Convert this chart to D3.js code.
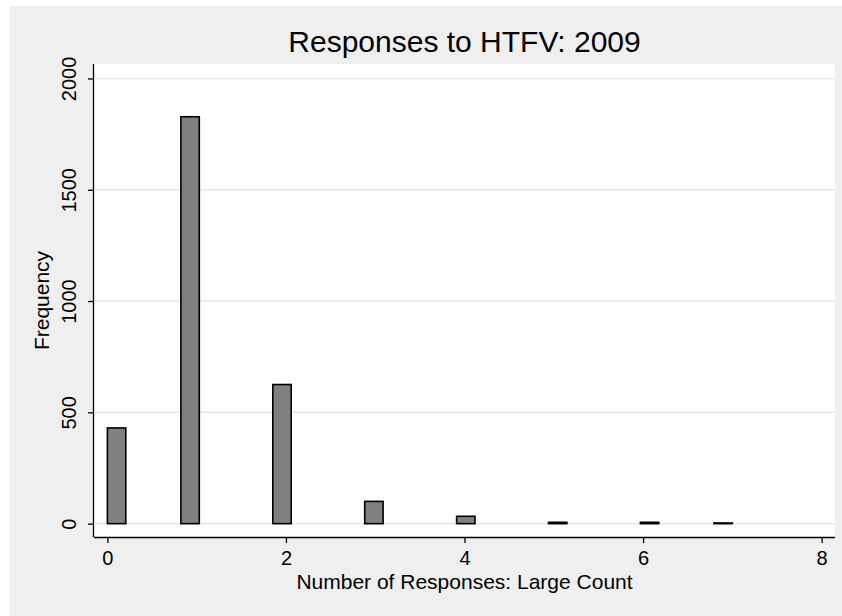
<!DOCTYPE html>
<html>
<head>
<meta charset="utf-8">
<script src="https://cdn.jsdelivr.net/npm/d3@7"></script>
<style>
  html, body { margin: 0; padding: 0; background: #ffffff; }
  svg { display: block; font-family: "Liberation Sans", Arial, Helvetica, sans-serif; }
</style>
</head>
<body>
<svg id="chart" width="842" height="616"></svg>
<script>
// Number of responses (discrete values) and how often each occurred
const responses = [0, 1, 2, 3, 4, 5, 6, 7];
const frequency = [430, 1828, 625, 100, 33, 6, 6, 3];

// Histogram binning: 34 equal bins spanning the observed range
const binCount = 34;
const dataMin = 0;
const dataMax = 7;

const xTicks = [0, 2, 4, 6, 8];
const yTicks = [0, 500, 1000, 1500, 2000];

const titleText = "Responses to HTFV: 2009";
const xTitle = "Number of Responses: Large Count";
const yTitle = "Frequency";

const W = 842, H = 616;
const plot = { left: 94, right: 835, top: 64, bottom: 537 };

const svg = d3.select("#chart");

// graph region
svg.append("rect")
  .attr("x", 10).attr("y", 6)
  .attr("width", W - 10).attr("height", H - 6)
  .attr("fill", "#efefef");

// plot region
svg.append("rect")
  .attr("x", plot.left).attr("y", plot.top)
  .attr("width", plot.right - plot.left).attr("height", plot.bottom - plot.top)
  .attr("fill", "#ffffff");

const x = d3.scaleLinear().domain([-0.15, 8.15]).range([plot.left, plot.right]);
const y = d3.scaleLinear().domain([-60, 2065]).range([plot.bottom, plot.top]);

// horizontal grid
svg.append("g").selectAll("line").data(yTicks).join("line")
  .attr("x1", plot.left + 1).attr("x2", plot.right)
  .attr("y1", d => y(d)).attr("y2", d => y(d))
  .attr("stroke", "#e6e6e6").attr("stroke-width", 1.5);

// bins
const binWidth = (dataMax - dataMin) / binCount;
const bars = responses.map((r, i) => {
  const k = Math.min(binCount - 1, Math.floor((r - dataMin) / binWidth));
  return { x0: dataMin + k * binWidth, x1: dataMin + (k + 1) * binWidth, n: frequency[i] };
});

svg.append("g").selectAll("rect").data(bars).join("rect")
  .attr("x", d => x(d.x0))
  .attr("width", d => x(d.x1) - x(d.x0))
  .attr("y", d => y(d.n))
  .attr("height", d => y(0) - y(d.n))
  .attr("fill", "#808080")
  .attr("stroke", "#000000")
  .attr("stroke-width", 1.6);

// axes
const xAxis = svg.append("g")
  .attr("transform", `translate(0,${plot.bottom})`)
  .call(d3.axisBottom(x).tickValues(xTicks).tickSize(6).tickFormat(d3.format("d")));
xAxis.select(".domain").attr("d", `M${plot.left},0.5H${plot.right}`).attr("stroke-width", 1.3);
xAxis.selectAll(".tick line").attr("stroke-width", 1.3);
xAxis.selectAll(".tick text")
  .attr("font-size", 20).attr("fill", "#000").attr("font-family", null)
  .attr("y", 28).attr("dy", 0);

const yAxis = svg.append("g")
  .attr("transform", `translate(${plot.left},0)`)
  .call(d3.axisLeft(y).tickValues(yTicks).tickSize(6).tickFormat(d3.format("d")));
yAxis.select(".domain").attr("d", `M-0.5,${plot.top}V${plot.bottom}`).attr("stroke-width", 1.3);
yAxis.selectAll(".tick line").attr("stroke-width", 1.3);
yAxis.selectAll(".tick text")
  .attr("font-size", 20).attr("fill", "#000").attr("font-family", null)
  .attr("x", 0).attr("dy", 0)
  .attr("text-anchor", "middle")
  .attr("transform", "translate(-18,0) rotate(-90)");

// titles
svg.append("text")
  .attr("x", (plot.left + plot.right) / 2).attr("y", 52)
  .attr("text-anchor", "middle").attr("font-size", 30)
  .text(titleText);

svg.append("text")
  .attr("x", (plot.left + plot.right) / 2).attr("y", 589)
  .attr("text-anchor", "middle").attr("font-size", 21)
  .text(xTitle);

svg.append("text")
  .attr("transform", `translate(49,${(plot.top + plot.bottom) / 2}) rotate(-90)`)
  .attr("text-anchor", "middle").attr("font-size", 21)
  .text(yTitle);
</script>
</body>
</html>
